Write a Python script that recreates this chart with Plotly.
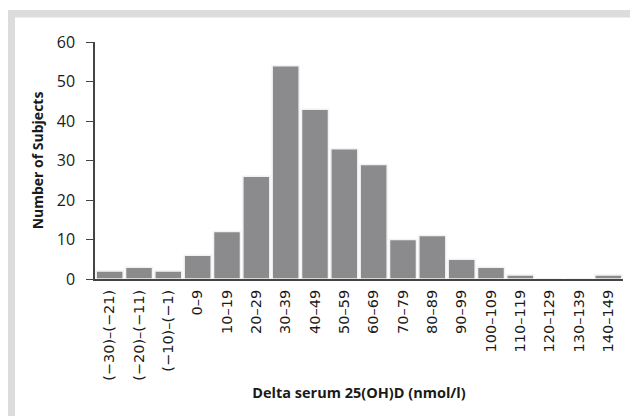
import plotly.graph_objects as go

categories = ["(−30)–(−21)", "(−20)–(−11)", "(−10)–(−1)", "0–9", "10–19", "20–29",
              "30–39", "40–49", "50–59", "60–69", "70–79", "80–89", "90–99",
              "100–109", "110–119", "120–129", "130–139", "140–149"]
subjects = [2, 3, 2, 6, 12, 26, 54, 43, 33, 29, 10, 11, 5, 3, 1, 0, 0, 1]
y_ticks = [0, 10, 20, 30, 40, 50, 60]

# page body has an 8px margin, so the figure is sized/positioned to compensate
W, H = 630, 408
L, R, T, B = 87, 15, 34, 137
pw, ph = W - L - R, H - T - B

def px(x):
    return (x - L) / pw

def py(y):
    return (H - B - y) / ph

fig = go.Figure(go.Bar(
    x=categories, y=subjects,
    marker=dict(color="#8b8b8d", line=dict(color="#f2f2f2", width=1.5)),
))

fig.update_layout(
    width=W, height=H,
    margin=dict(l=L, r=R, t=T, b=B, autoexpand=False),
    paper_bgcolor="white", plot_bgcolor="white",
    bargap=0.08,
    showlegend=False,
    font=dict(family="Open Sans", color="#1a1a1a", size=13),
    shapes=[
        dict(type="rect", xref="paper", yref="paper", x0=px(0), x1=px(W + 5),
             y0=py(9.5), y1=py(2), fillcolor="#dcdcdc", line=dict(width=0), layer="below"),
        dict(type="rect", xref="paper", yref="paper", x0=px(0), x1=px(7),
             y0=py(H + 5), y1=py(2), fillcolor="#dcdcdc", line=dict(width=0), layer="below"),
    ],
)

fig.update_xaxes(
    type="category", tickangle=-90, showline=True, linecolor="#444", linewidth=2,
    ticks="", tickfont=dict(family="DejaVu Sans", size=14.5), showgrid=False, automargin=False,
    ticklabelstandoff=3,
    title=dict(text="Delta serum 25(OH)D (nmol/l)", font=dict(size=14.5, weight="bold"), standoff=8),
)
fig.update_yaxes(
    range=[0, 60], tickvals=y_ticks, showline=True, linecolor="#444", linewidth=1.5,
    ticks="outside", ticklen=7, tickcolor="#444", tickfont=dict(size=16),
    showgrid=False, zeroline=False, automargin=False, ticklabelstandoff=8,
    title=dict(text="Number of Subjects", font=dict(size=14, weight="bold"), standoff=10),
)

fig.write_html("out.html")
